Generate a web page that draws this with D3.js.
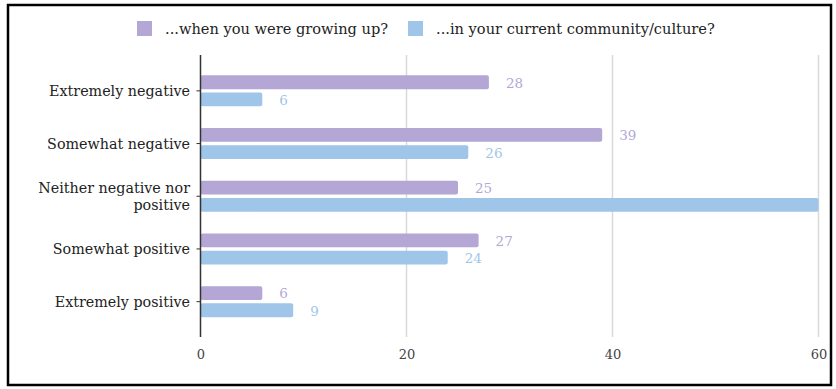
<!DOCTYPE html>
<html>
<head>
<meta charset="utf-8">
<script src="https://cdn.jsdelivr.net/npm/d3@7/dist/d3.min.js"></script>
<style>
  html, body { margin: 0; padding: 0; background: #fff; }
  svg { display: block; }
  text { font-family: Georgia, "DejaVu Serif", serif; }
</style>
</head>
<body>
<svg id="chart" width="836" height="389"></svg>
<script>
// Survey responses: how the community viewed it, then vs now
const categories = [
  "Extremely negative",
  "Somewhat negative",
  "Neither negative nor positive",
  "Somewhat positive",
  "Extremely positive"
];
const categoryLines = [
  ["Extremely negative"],
  ["Somewhat negative"],
  ["Neither negative nor", "positive"],
  ["Somewhat positive"],
  ["Extremely positive"]
];
const seriesNames = ["...when you were growing up?", "...in your current community/culture?"];
const grewUp = [28, 39, 25, 27, 6];
const current = [6, 26, 60, 24, 9];
const xTicks = [0, 20, 40, 60];
const colors = ["#b4a7d6", "#9fc5e8"];

const FONT = "Georgia, 'DejaVu Serif', serif";
const svg = d3.select("#chart");

// outer frame
svg.append("rect")
  .attr("x", 8).attr("y", 5)
  .attr("width", 823).attr("height", 380)
  .attr("fill", "none").attr("stroke", "#000").attr("stroke-width", 2.5);

const x = d3.scaleLinear().domain([0, 60]).range([200.5, 818.5]);
const y = d3.scaleBand().domain(categories).range([64.5, 328]);
const inner = d3.scaleBand().domain([0, 1]).range([-15.5, 15.5]).paddingInner(0.2);

const gridTop = 55, gridBottom = 337;

// vertical gridlines
svg.append("g").selectAll("line")
  .data(xTicks.filter(t => t !== 0))
  .join("line")
  .attr("x1", d => x(d)).attr("x2", d => x(d))
  .attr("y1", gridTop).attr("y2", gridBottom)
  .attr("stroke", "#d9d9d9").attr("stroke-width", 1.5);

// x tick labels
const xAxis = d3.axisBottom(x).tickValues(xTicks).tickSize(0).tickPadding(0);
const gx = svg.append("g").attr("transform", `translate(0, ${gridBottom + 13})`).call(xAxis);
gx.select(".domain").remove();
gx.selectAll("text")
  .attr("fill", "#444").attr("font-size", 13)
  .attr("font-family", FONT);

// bars
const series = [grewUp, current];
series.forEach((vals, si) => {
  svg.append("g").selectAll("rect")
    .data(vals)
    .join("rect")
    .attr("x", x(0))
    .attr("y", (d, i) => y(categories[i]) + y.bandwidth() / 2 + inner(si))
    .attr("width", d => x(d) - x(0))
    .attr("height", inner.bandwidth())
    .attr("rx", 2).attr("ry", 2)
    .attr("fill", colors[si]);

  // value labels (not drawn when the bar reaches the end of the axis)
  svg.append("g").selectAll("text")
    .data(vals.map((v, i) => ({ v, i })).filter(d => d.v < 60))
    .join("text")
    .attr("x", d => x(d.v) + 17)
    .attr("y", d => y(categories[d.i]) + y.bandwidth() / 2 + inner(si) + inner.bandwidth() / 2)
    .attr("dy", "0.4em")
    .attr("font-size", 13.5)
    .attr("fill", colors[si])
    .text(d => d.v);
});

// zero axis line
svg.append("line")
  .attr("x1", x(0)).attr("x2", x(0))
  .attr("y1", gridTop).attr("y2", gridBottom)
  .attr("stroke", "#333").attr("stroke-width", 1.5);

// category ticks and labels
const gy = svg.append("g");
categories.forEach((c, i) => {
  const cy = y(c) + y.bandwidth() / 2;
  gy.append("line")
    .attr("x1", x(0) - 4).attr("x2", x(0))
    .attr("y1", cy).attr("y2", cy)
    .attr("stroke", "#333").attr("stroke-width", 1);
  const lines = categoryLines[i];
  const t = gy.append("text")
    .attr("text-anchor", "end")
    .attr("font-size", 14.3)
    .attr("fill", "#222");
  lines.forEach((ln, li) => {
    t.append("tspan")
      .attr("x", 190)
      .attr("y", cy + (li - (lines.length - 1) / 2) * 17)
      .attr("dy", "0.35em")
      .text(ln);
  });
});

// legend
const legend = svg.append("g");
const legendItems = [
  { name: seriesNames[0], sx: 137, tx: 165 },
  { name: seriesNames[1], sx: 408, tx: 436 }
];
legendItems.forEach((it, i) => {
  legend.append("rect")
    .attr("x", it.sx).attr("y", 21).attr("width", 15).attr("height", 15)
    .attr("fill", colors[i]);
  legend.append("text")
    .attr("x", it.tx).attr("y", 28.5).attr("dy", "0.35em")
    .attr("font-size", 14.6).attr("fill", "#222")
    .text(it.name);
});
</script>
</body>
</html>
